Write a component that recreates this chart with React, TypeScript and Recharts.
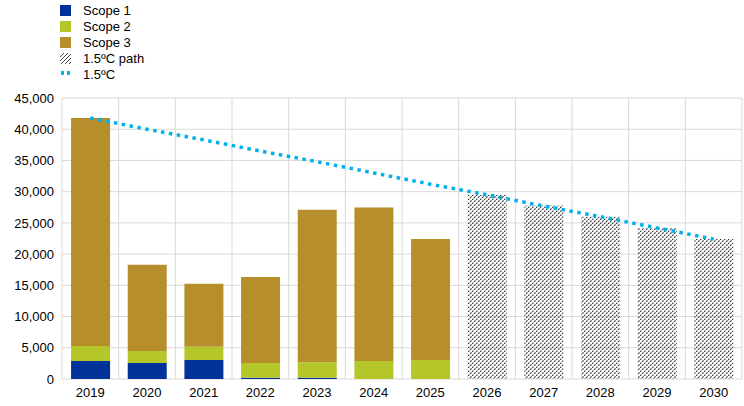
import React from 'react';
import { ComposedChart, Bar, Line, XAxis, YAxis, CartesianGrid } from 'recharts';

// Emissions by scope, tonnes CO2e
const years = ['2019', '2020', '2021', '2022', '2023', '2024', '2025', '2026', '2027', '2028', '2029', '2030'];
const scope1 = [2900, 2550, 3050, 200, 200, 0, 0, null, null, null, null, null];
const scope2 = [2400, 1950, 2100, 2350, 2500, 2900, 3050, null, null, null, null, null];
const scope3 = [36500, 13800, 10100, 13800, 24400, 24550, 19350, null, null, null, null, null];
const pathValues = [null, null, null, null, null, null, null, 29500, 27800, 26000, 24200, 22400];
const targetLine = [41800, 40000, 38300, 36500, 34800, 33000, 31200, 29500, 27700, 26000, 24200, 22400];
const yTicks = [0, 5000, 10000, 15000, 20000, 25000, 30000, 35000, 40000, 45000];

const colors = {
  scope1: '#003299',
  scope2: '#b4c629',
  scope3: '#b68f2c',
  line: '#00b1ea',
  grid: '#d9d9d9',
};

const data = years.map((year, i) => ({
  year,
  scope1: scope1[i],
  scope2: scope2[i],
  scope3: scope3[i],
  path: pathValues[i],
  target: targetLine[i],
}));

const font = '"Liberation Sans", Arial, sans-serif';

const LegendIcon = ({ kind }: { kind: string }) => {
  if (kind === 'path') {
    return (
      <svg width={11} height={11} style={{ display: 'block' }}>
        <rect width={11} height={11} fill="url(#hatchLegend)" />
      </svg>
    );
  }
  if (kind === 'line') {
    return (
      <svg width={11} height={11} style={{ display: 'block' }}>
        <rect x={1} y={2} width={3} height={4} fill={colors.line} />
        <rect x={7} y={2} width={3} height={4} fill={colors.line} />
      </svg>
    );
  }
  return <div style={{ width: 11, height: 11, background: kind }} />;
};

const legendItems = [
  { label: 'Scope 1', kind: colors.scope1 },
  { label: 'Scope 2', kind: colors.scope2 },
  { label: 'Scope 3', kind: colors.scope3 },
  { label: '1.5ºC path', kind: 'path' },
  { label: '1.5ºC', kind: 'line' },
];

export default function App() {
  return (
    <div style={{ position: 'absolute', left: 0, top: 0, width: 744, height: 406, background: '#fff', fontFamily: font }}>
      <svg width={0} height={0} style={{ position: 'absolute' }}>
        <defs>
          <pattern id="hatchLegend" width={4} height={4} patternUnits="userSpaceOnUse">
            <path d="M0,4 L4,0" stroke="#444" strokeWidth={1} />
          </pattern>
        </defs>
      </svg>
      <div style={{ position: 'absolute', left: 60, top: 2, fontSize: 13, color: '#000' }}>
        {legendItems.map((item) => (
          <div key={item.label} style={{ display: 'flex', alignItems: 'center', height: 16.2 }}>
            <LegendIcon kind={item.kind} />
            <span style={{ marginLeft: 12 }}>{item.label}</span>
          </div>
        ))}
      </div>
      <ComposedChart
        width={744}
        height={406}
        data={data}
        margin={{ top: 98, right: 2, bottom: 0, left: 0 }}
        barCategoryGap="16%"
        style={{ fontFamily: font }}
      >
        <defs>
          <pattern id="hatch" width={4} height={4} patternUnits="userSpaceOnUse">
            <path d="M0,4 L4,0" stroke="#333" strokeWidth={1.1} strokeDasharray="2 1" />
          </pattern>
        </defs>
        <CartesianGrid
          stroke={colors.grid}
          verticalCoordinatesGenerator={({ offset }: any) =>
            Array.from({ length: years.length + 1 }, (_, i) => offset.left + (i * offset.width) / years.length)
          }
        />
        <XAxis
          dataKey="year"
          axisLine={false}
          tickLine={false}
          height={27}
          tick={{ fill: '#000', fontSize: 13 }}
          tickMargin={3}
        />
        <YAxis
          domain={[0, 45000]}
          ticks={yTicks}
          width={62}
          axisLine={false}
          tickLine={false}
          tick={{ fill: '#000', fontSize: 13 }}
          tickFormatter={(v: number) => v.toLocaleString('en-US')}
        />
        <Bar dataKey="scope1" stackId="a" fill={colors.scope1} isAnimationActive={false} />
        <Bar dataKey="scope2" stackId="a" fill={colors.scope2} isAnimationActive={false} />
        <Bar dataKey="scope3" stackId="a" fill={colors.scope3} isAnimationActive={false} />
        <Bar dataKey="path" stackId="a" fill="url(#hatch)" isAnimationActive={false} />
        <Line
          dataKey="target"
          stroke={colors.line}
          strokeWidth={3.5}
          strokeDasharray="3.5 4.5"
          dot={false}
          activeDot={false}
          isAnimationActive={false}
        />
      </ComposedChart>
    </div>
  );
}
